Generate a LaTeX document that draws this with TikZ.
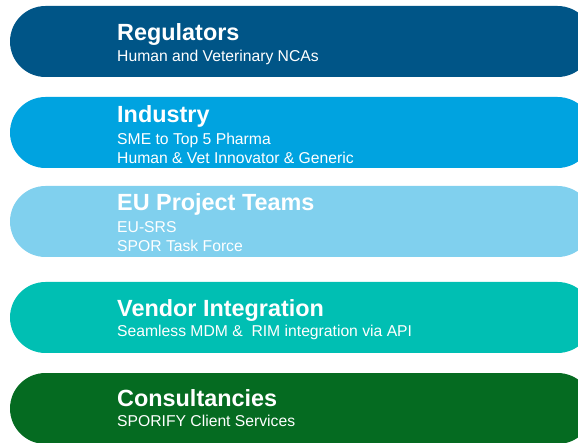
\documentclass[tikz,border=0pt]{standalone}
\usepackage{fontspec}
\setmainfont{Liberation Sans}
\definecolor{regblue}{RGB}{0,85,135}
\definecolor{indblue}{RGB}{0,163,224}
\definecolor{eublue}{RGB}{128,208,238}
\definecolor{vendteal}{RGB}{0,191,179}
\definecolor{consgreen}{RGB}{5,107,33}
\tikzset{
  pill/.style={rounded corners=35.5pt},
  title/.style={anchor=base west, inner sep=0pt, text=white,
    font=\fontsize{23.4}{26}\selectfont\bfseries},
  sub/.style={anchor=base west, inner sep=0pt, text=white,
    font=\fontsize{15.7}{18}\selectfont},
}
\begin{document}
\begin{tikzpicture}[x=1pt,y=-1pt]
\useasboundingbox (0,0) rectangle (578,443);
% the five bands, each running past the right edge
\fill[regblue,pill]   (10,6)   rectangle (593,77);
\fill[indblue,pill]   (10,97)  rectangle (593,168);
\fill[eublue,pill]    (10,186) rectangle (593,257);
\fill[vendteal,pill]  (10,282) rectangle (593,353);
\fill[consgreen,pill] (10,373) rectangle (593,444);
% band labels
\node[title] (t1) at (117,40.9) {Regulators};
\node[sub]   (s1) at (117,61.4) {Human and Veterinary NCAs};
\node[title] (t2) at (117,122.1) {Industry};
\node[sub]   (s2a) at (117,144.5) {SME to Top 5 Pharma};
\node[sub]   (s2b) at (117,163.5) {Human \& Vet Innovator \& Generic};
\node[title] (t3) at (117,210.2) {EU Project Teams};
\node[sub]   (s3a) at (117,232.9) {EU-SRS};
\node[sub]   (s3b) at (117,251.9) {SPOR Task Force};
\node[title] (t4) at (117,316.2) {Vendor Integration};
\node[sub]   (s4) at (117,336.9) {Seamless MDM \&\ \ RIM integration via API};
\node[title] (t5) at (117,406.7) {Consultancies};
\node[sub]   (s5) at (117,426.9) {SPORIFY Client Services};
\end{tikzpicture}
\end{document}
